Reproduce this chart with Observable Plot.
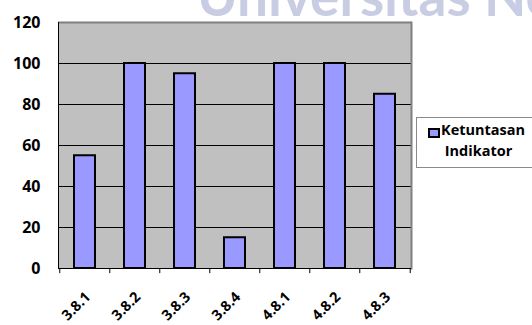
<!DOCTYPE html>
<html>
<head>
<meta charset="utf-8">
<script src="https://cdn.jsdelivr.net/npm/d3@7"></script>
<script src="https://cdn.jsdelivr.net/npm/@observablehq/plot@0.6"></script>
<style>
  html, body { margin: 0; padding: 0; background: #fff; }
  #wrap { position: relative; width: 532px; height: 325px; overflow: hidden; font-family: "Open Sans", Lato, sans-serif; }
  #wrap svg.plot { position: absolute; left: 0; top: 0; }
  #wm { position: absolute; left: 0; top: 0; pointer-events: none; }
  #legend { position: absolute; left: 416px; top: 117px; width: 130px; height: 51px; border: 1px solid #8a8a8a; background: #fff; box-sizing: border-box; }
  #legend .sw { position: absolute; left: 11px; top: 10px; width: 8px; height: 6px; background: #9999FF; border: 2px solid #000; }
  #legend .t { position: absolute; left: 24px; top: 1px; font-weight: bold; font-size: 14.5px; line-height: 21px; color: #000; white-space: nowrap; }
</style>
</head>
<body>
<div id="wrap"></div>
<script>
const categories = ["3.8.1", "3.8.2", "3.8.3", "3.8.4", "4.8.1", "4.8.2", "4.8.3"];
const values = [55, 100, 95, 15, 100, 100, 85];
const yTicks = [0, 20, 40, 60, 80, 100, 120];
const gridTicks = [20, 40, 60, 80, 100];
const seriesName = ["Ketuntasan", "Indikator"];
const watermark = "Universitas Negeri";

const data = categories.map((c, i) => ({cat: c, value: values[i]}));

const W = 532, H = 325;
const mL = 58, mR = 121, mT = 22, mB = 57;
const step = (W - mL - mR) / categories.length;

const chart = Plot.plot({
  width: W,
  height: H,
  marginLeft: mL,
  marginRight: mR,
  marginTop: mT,
  marginBottom: mB,
  style: {fontFamily: "'Open Sans', Lato, sans-serif", background: "transparent", overflow: "visible"},
  x: {type: "band", domain: categories, paddingInner: 0.58, paddingOuter: 0.29, axis: null},
  y: {domain: [0, 120], axis: null},
  marks: [
    Plot.frame({fill: "#C0C0C0", stroke: "none"}),
    Plot.ruleY(gridTicks, {stroke: "#000", strokeWidth: 1}),
    Plot.ruleY([120], {stroke: "#808080", strokeWidth: 2}),
    Plot.frame({anchor: "right", stroke: "#808080", strokeWidth: 2}),
    Plot.barY(data, {x: "cat", y: "value", fill: "#9999FF", stroke: "#000", strokeWidth: 2}),
    Plot.frame({anchor: "left", stroke: "#000", strokeWidth: 1}),
    Plot.ruleY([0], {stroke: "#000", strokeWidth: 1}),
    Plot.axisY(yTicks, {label: null, tickSize: 6, tickPadding: 12, fontSize: 16, fontWeight: "bold", fill: "#000", stroke: null}),
    Plot.ruleX(categories, {x: d => d, y1: 0, y2: -2.5, dx: -step / 2, stroke: "#000"}),
    Plot.ruleX(categories.slice(-1), {x: d => d, y1: 0, y2: -2.5, dx: step / 2, stroke: "#000"}),
    Plot.text(categories, {x: d => d, y: 0, text: d => d, rotate: -45, textAnchor: "end", dx: 3, dy: 26, fontSize: 14.5, fontWeight: "bold", fill: "#000"})
  ]
});
chart.classList.add("plot");

const wrap = document.getElementById("wrap");
wrap.appendChild(chart);

// watermark
const ns = "http://www.w3.org/2000/svg";
const wm = document.createElementNS(ns, "svg");
wm.setAttribute("id", "wm");
wm.setAttribute("width", W);
wm.setAttribute("height", 40);
const t = document.createElementNS(ns, "text");
t.setAttribute("x", 197);
t.setAttribute("y", 16);
t.setAttribute("font-family", "Lato, 'Open Sans', sans-serif");
t.setAttribute("font-weight", "bold");
t.setAttribute("font-size", 55);
t.setAttribute("fill", "#C9CDE3");
t.textContent = watermark;
wm.appendChild(t);
wrap.appendChild(wm);

// legend
const lg = document.createElement("div");
lg.id = "legend";
lg.innerHTML = `<div class="sw"></div><div class="t">${seriesName[0]}<br>&nbsp;${seriesName[1]}</div>`;
wrap.appendChild(lg);
</script>
</body>
</html>
